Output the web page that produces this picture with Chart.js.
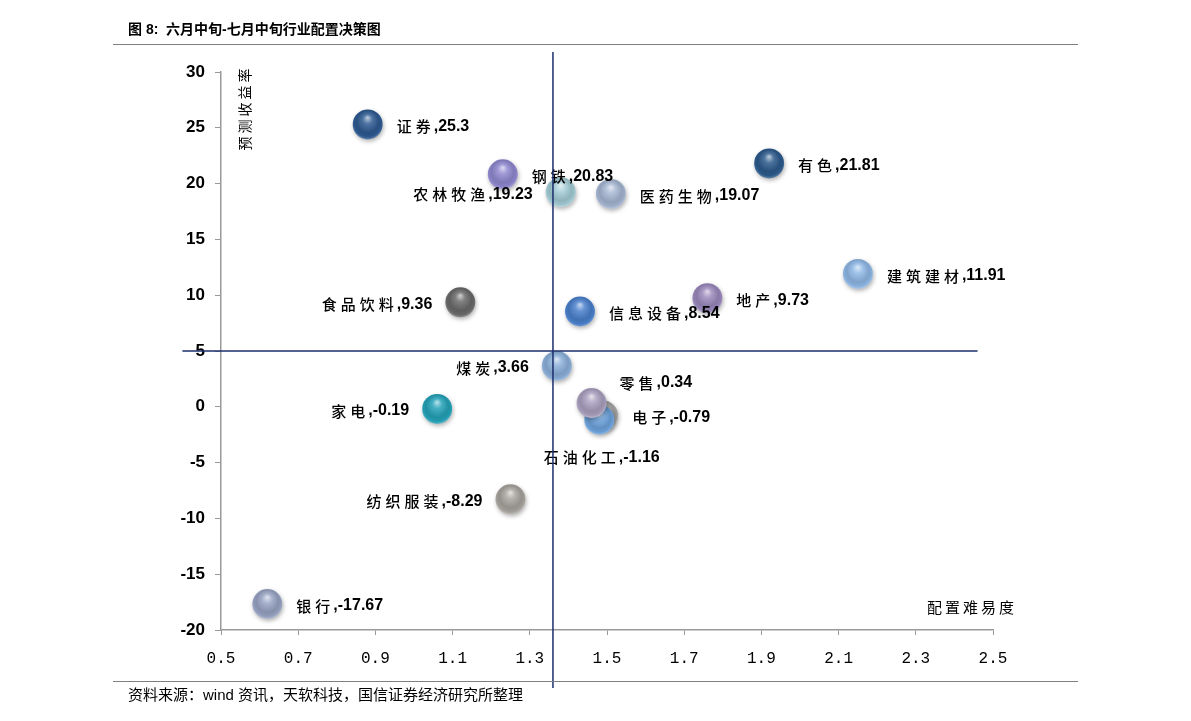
<!DOCTYPE html>
<html>
<head>
<meta charset="utf-8">
<script src="https://cdn.jsdelivr.net/npm/chart.js@4.4.1/dist/chart.umd.min.js"></script>
<style>
body { margin: 0; background: #fff; }
#wrap { position: relative; width: 1191px; height: 721px; }
#chart { position: absolute; left: 0; top: 0; }
.rule { position: absolute; left: 113px; width: 965px; height: 0; border-top: 1px solid #808080; }
#title { position: absolute; left: 128px; top: 18px; font: bold 14px "Liberation Sans", "Noto Sans CJK SC"; color: #000; }
#source { position: absolute; left: 128px; top: 683px; font: 15px "Liberation Sans", "Noto Sans CJK SC"; color: #000; }
</style>
</head>
<body>
<div id="wrap">
  <canvas id="chart" width="1191" height="721"></canvas>
  <div id="title">图 8:&nbsp; 六月中旬-七月中旬行业配置决策图</div>
  <div class="rule" style="top:44px"></div>
  <div class="rule" style="top:681px"></div>
  <div id="source">资料来源：wind 资讯，天软科技，国信证券经济研究所整理</div>
</div>
<script>
// 行业 / 配置难易度 (x) / 预测收益率 (y)
const industries = ['证券', '钢铁', '农林牧渔', '医药生物', '有色', '建筑建材', '地产', '信息设备',
                    '食品饮料', '煤炭', '电子', '石油化工', '零售', '家电', '纺织服装', '银行'];
const difficulty = [0.88, 1.23, 1.38, 1.51, 1.92, 2.15, 1.76, 1.43,
                    1.12, 1.37, 1.49, 1.48, 1.46, 1.06, 1.25, 0.62];
const expectedReturn = [25.3, 20.83, 19.23, 19.07, 21.81, 11.91, 9.73, 8.54,
                        9.36, 3.66, -0.79, -1.16, 0.34, -0.19, -8.29, -17.67];
const xTicks = [0.5, 0.7, 0.9, 1.1, 1.3, 1.5, 1.7, 1.9, 2.1, 2.3, 2.5];
const yTicks = [-20, -15, -10, -5, 0, 5, 10, 15, 20, 25, 30];
// 分界线: 竖线 x=1.36, 横线 y=5
const crossX = 1.36, crossXSpan = [-25.2, 31.8];
const crossY = 5, crossYSpan = [0.4, 2.46];

// styles
const ballColors = ['#2e5a92', '#9088d0', '#a4ccd6', '#a6b6d2', '#2c5a8c', '#8fb8e6', '#9a88bc', '#4a80cc',
                    '#6a6a6a', '#8cb0da', '#a8a8a8', '#6ea4de', '#aaa0c0', '#24a2b8', '#a8a49e', '#98a4c4'];
const labelSide = ['right', 'right', 'left', 'right', 'right', 'right', 'right', 'right',
                   'left', 'left', 'right', 'below', 'above', 'left', 'left', 'right'];
const BALL_R = 15;
const CJK = '"Noto Sans CJK SC"';

function mix(hex, target, t) {
    const a = parseInt(hex.slice(1), 16), b = parseInt(target.slice(1), 16);
    const ch = (v, s) => (v >> s) & 255;
    const m = s => Math.round(ch(a, s) + (ch(b, s) - ch(a, s)) * t);
    return `rgb(${m(16)},${m(8)},${m(0)})`;
}

function sphere(context) {
    const i = context.dataIndex;
    const base = ballColors[i] || '#888888';
    const chart = context.chart;
    if (context.type !== 'data' || !chart.scales.x || !chart.scales.y) return base;
    const x = chart.scales.x.getPixelForValue(difficulty[i]);
    const y = chart.scales.y.getPixelForValue(expectedReturn[i]);
    if (!Number.isFinite(x) || !Number.isFinite(y)) return base;
    const g = chart.ctx.createRadialGradient(x, y - 7, 0, x, y - 1, BALL_R + 1);
    g.addColorStop(0, mix(base, '#ffffff', 0.7));
    g.addColorStop(0.3, mix(base, '#ffffff', 0.15));
    g.addColorStop(0.7, mix(base, '#000000', 0.12));
    g.addColorStop(0.88, mix(base, '#000000', 0.05));
    g.addColorStop(1, mix(base, '#ffffff', 0.25));
    return g;
}

const extras = {
    id: 'extras',
    beforeDatasetsDraw(chart) {
        const c = chart.ctx;
        c.save();
        c.shadowColor = 'rgba(0,0,0,0.3)';
        c.shadowBlur = 4;
        c.shadowOffsetX = 1;
        c.shadowOffsetY = 2;
    },
    afterDatasetsDraw(chart) {
        const c = chart.ctx;
        c.restore();
        const meta = chart.getDatasetMeta(0);

        // 数据标签
        c.save();
        c.textBaseline = 'middle';
        c.fillStyle = '#000';
        meta.data.forEach((pt, i) => {
            const name = industries[i];
            const val = ',' + expectedReturn[i];
            c.font = '500 15px ' + CJK;
            c.letterSpacing = '4px';
            const wName = c.measureText(name).width;
            c.font = 'bold 16px "Liberation Sans"';
            c.letterSpacing = '0px';
            const wVal = c.measureText(val).width;
            const w = wName + wVal;
            let x, y = pt.y + 2;
            const side = labelSide[i];
            if (side === 'left') x = pt.x - 27 - w;
            else if (side === 'below') { x = pt.x + 3 - w / 2; y = pt.y + 38; }
            else if (side === 'above') { x = pt.x + 28; y = pt.y - 20; }
            else x = pt.x + 29;
            c.textAlign = 'left';
            c.font = '500 15px ' + CJK;
            c.letterSpacing = '4px';
            c.fillText(name, x, y);
            c.font = 'bold 16px "Liberation Sans"';
            c.letterSpacing = '0px';
            c.fillText(val, x + wName - 1, y);
        });
        c.restore();

        // 分界线
        const xs = chart.scales.x, ys = chart.scales.y;
        c.save();
        c.strokeStyle = '#1b2f6e';
        c.lineWidth = 1.5;
        c.beginPath();
        c.moveTo(xs.getPixelForValue(crossX), ys.getPixelForValue(crossXSpan[0]));
        c.lineTo(xs.getPixelForValue(crossX), ys.getPixelForValue(crossXSpan[1]));
        c.moveTo(xs.getPixelForValue(crossYSpan[0]), ys.getPixelForValue(crossY));
        c.lineTo(xs.getPixelForValue(crossYSpan[1]), ys.getPixelForValue(crossY));
        c.stroke();
        c.restore();

        // 坐标轴标题
        const area = chart.chartArea;
        c.save();
        c.fillStyle = '#000';
        c.font = '14px ' + CJK;
        c.letterSpacing = '3px';
        c.textBaseline = 'middle';
        c.textAlign = 'center';
        c.translate(area.left + 24, area.top + 36);
        c.rotate(-Math.PI / 2);
        c.fillText('预测收益率', 0, 0);
        c.restore();
        c.save();
        c.fillStyle = '#000';
        c.font = '15px ' + CJK;
        c.letterSpacing = '3px';
        c.textBaseline = 'middle';
        c.textAlign = 'right';
        c.fillText('配置难易度', area.right + 24, area.bottom - 23);
        c.restore();
    }
};

const ctx = document.getElementById('chart').getContext('2d');
new Chart(ctx, {
    type: 'bubble',
    data: {
        datasets: [{
            data: industries.map((n, i) => ({ x: difficulty[i], y: expectedReturn[i] })),
            backgroundColor: sphere,
            borderWidth: 0,
            radius: BALL_R,
            hoverRadius: 0
        }]
    },
    options: {
        responsive: false,
        animation: false,
        events: [],
        layout: { padding: { top: 72, right: 198, left: 0, bottom: 0 } },
        plugins: { legend: { display: false }, tooltip: { enabled: false } },
        scales: {
            x: {
                type: 'linear',
                min: 0.5,
                max: 2.5,
                afterBuildTicks: s => { s.ticks = xTicks.map(v => ({ value: v })); },
                afterFit: s => { s.height = 91; },
                border: { color: '#999999', width: 1.5 },
                grid: { drawOnChartArea: false, drawTicks: true, tickLength: 5, color: '#999999' },
                ticks: {
                    padding: 14,
                    color: '#000',
                    font: { family: '"Liberation Mono"', size: 16 },
                    callback: v => v.toFixed(1)
                }
            },
            y: {
                type: 'linear',
                min: -20,
                max: 30,
                afterBuildTicks: s => { s.ticks = yTicks.map(v => ({ value: v })); },
                afterFit: s => { s.width = 221; },
                border: { color: '#999999', width: 1.5 },
                grid: { drawOnChartArea: false, drawTicks: true, tickLength: 6, color: '#999999' },
                ticks: {
                    padding: 10,
                    color: '#000',
                    font: { family: '"Liberation Sans"', size: 17, weight: 'bold' }
                }
            }
        }
    },
    plugins: [extras]
});
</script>
</body>
</html>
